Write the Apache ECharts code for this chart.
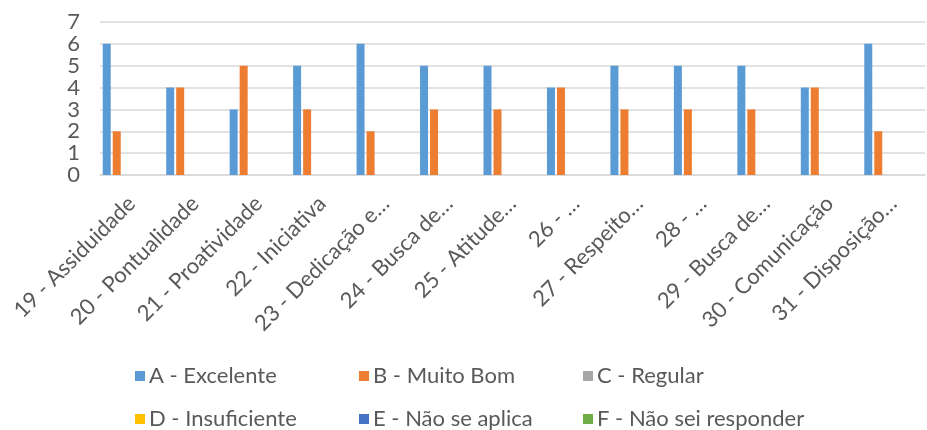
<!DOCTYPE html>
<html>
<head>
<meta charset="utf-8">
<script src="https://cdn.jsdelivr.net/npm/echarts@6/dist/echarts.min.js"></script>
<style>
  html, body { margin: 0; padding: 0; background: #fff; }
  #chart { width: 927px; height: 430px; }
</style>
</head>
<body>
<div id="chart"></div>
<script>
// categorias (rótulos truncados como no gráfico original)
const categories = [
  '19 - Assiduidade', '20 - Pontualidade', '21 - Proatividade', '22 - Iniciativa',
  '23 - Dedicação e…', '24 - Busca de…', '25 - Atitude…', '26 - …',
  '27 - Respeito…', '28 - …', '29 - Busca de…', '30 - Comunicação', '31 - Disposição…'
]
const seriesNames = [
  'A - Excelente', 'B - Muito Bom', 'C - Regular',
  'D - Insuficiente', 'E - Não se aplica', 'F - Não sei responder'
]
const excelente = [6, 4, 3, 5, 6, 5, 5, 4, 5, 5, 5, 4, 6]
const muitoBom = [2, 4, 5, 3, 2, 3, 3, 4, 3, 3, 3, 4, 2]
const regular = [0, 0, 0, 0, 0, 0, 0, 0, 0, 0, 0, 0, 0]
const insuficiente = [0, 0, 0, 0, 0, 0, 0, 0, 0, 0, 0, 0, 0]
const naoSeAplica = [0, 0, 0, 0, 0, 0, 0, 0, 0, 0, 0, 0, 0]
const naoSeiResponder = [0, 0, 0, 0, 0, 0, 0, 0, 0, 0, 0, 0, 0]
const yTicks = [0, 1, 2, 3, 4, 5, 6, 7]

const colors = ['#5B9BD5', '#ED7D31', '#A5A5A5', '#FFC000', '#4472C4', '#70AD47']
const values = [excelente, muitoBom, regular, insuficiente, naoSeAplica, naoSeiResponder]
const font = 'Lato, "Liberation Sans", sans-serif'
const textColor = '#595959'

const chart = echarts.init(document.getElementById('chart'))

// uma legenda por item para imitar a grade 3x2 do Excel
const legends = seriesNames.map((name, i) => ({
  data: [name],
  left: 130 + (i % 3) * 224,
  top: 360 + Math.floor(i / 3) * 43,
  icon: 'rect',
  itemWidth: 10,
  itemHeight: 10,
  itemGap: 0,
  textStyle: { fontFamily: font, fontSize: 22, color: textColor, padding: [0, 0, 0, -1] },
  selectedMode: false
}))

const option = {
  animation: false,
  color: colors,
  textStyle: { fontFamily: font },
  legend: legends,
  grid: { left: 100, right: 2, top: 22, height: 153, containLabel: false },
  xAxis: {
    type: 'category',
    data: categories,
    axisLine: { lineStyle: { color: '#d9d9d9', width: 1.5 } },
    axisTick: { show: false },
    axisLabel: {
      interval: 0,
      rotate: 45,
      margin: 25,
      fontFamily: font,
      fontSize: 22,
      color: textColor
    }
  },
  yAxis: {
    type: 'value',
    min: yTicks[0],
    max: yTicks[yTicks.length - 1],
    interval: 1,
    axisLine: { show: false },
    axisTick: { show: false },
    splitLine: { lineStyle: { color: '#d9d9d9', width: 1.5 } },
    axisLabel: { fontFamily: font, fontSize: 22, color: textColor, margin: 20 }
  },
  series: seriesNames.map((name, i) => ({
    name: name,
    type: 'bar',
    data: values[i],
    barWidth: 8,
    barGap: '25%'
  }))
}

chart.setOption(option)
</script>
</body>
</html>
